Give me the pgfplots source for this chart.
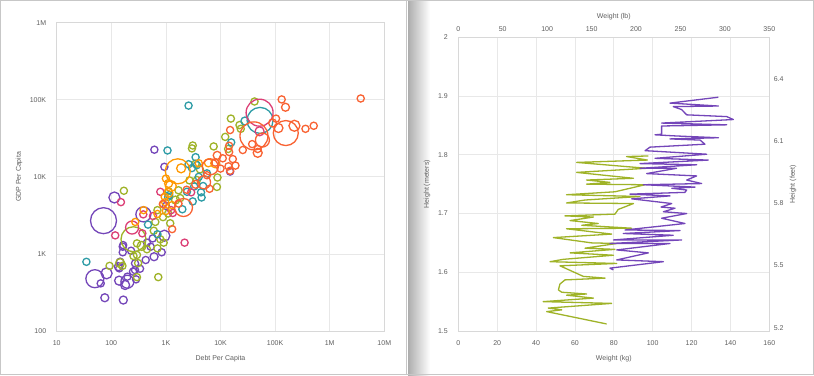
\documentclass[border=0pt]{standalone}
\usepackage{fontspec}
\setmainfont{Liberation Sans}
\usepackage{pgfplots}
\pgfplotsset{compat=1.18}
\definecolor{cP}{HTML}{7446B9}
\definecolor{cG}{HTML}{9FB328}
\definecolor{cR}{HTML}{F96232}
\definecolor{cT}{HTML}{2E9CA6}
\definecolor{cK}{HTML}{DC3F76}
\definecolor{cO}{HTML}{FF9800}
\definecolor{txt}{HTML}{5F5F5F}
\definecolor{gridc}{HTML}{E8E8E8}
\definecolor{axc}{HTML}{D8D8D8}
\pgfplotsset{
  base/.style={
    scale only axis,
    axis line style={draw=axc, line width=0.8pt},
    grid=major, major grid style={draw=gridc, line width=0.8pt},
    minor tick num=0,
    tick style={draw=none},
    tick label style={font=\fontsize{7}{8}\selectfont, text=txt},
    label style={font=\fontsize{7}{8}\selectfont, text=txt},
    /pgf/number format/assume math mode=true,
  },
  bub/.style={only marks, scatter, mark=o, line width=1.3pt,
    mark options={line width=1.3pt},
    scatter/use mapped color={draw=#1, fill=none, line width=1.3pt},
    visualization depends on={\thisrow{r}\as\bsize},
    scatter/@pre marker code/.append style={/tikz/mark size=\bsize}},
}
\begin{document}
\begin{tikzpicture}[x=1pt,y=1pt]
\useasboundingbox (0,0) rectangle (814,375);
\fill[white] (0,0) rectangle (814,375);
\shade[left color=black!32, right color=white] (408,0) rectangle (430,375);
\draw[black!22, line width=0.8pt] (0.5,0.5) rectangle (813.5,374.5);
\draw[black!22, line width=0.8pt] (406.8,0) -- (406.8,375);

% ---------------- left bubble chart ----------------
\begin{axis}[base, at={(56.7pt,44pt)}, anchor=south west,
  width=327.6pt, height=308.3pt,
  xmode=log, ymode=log,
  xmin=10, xmax=1e7, ymin=100, ymax=1e6,
  xtick={10,100,1000,10000,100000,1000000,10000000},
  xticklabels={10,100,1K,10K,100K,1M,10M},
  ytick={100,1000,10000,100000,1000000},
  yticklabels={100,1K,10K,100K,1M},
  xticklabel style={yshift=-6pt},
  yticklabel style={xshift=-7pt},
  xlabel={Debt Per Capita}, ylabel={GDP Per Capita},
  xlabel style={at={([yshift=-28pt]rel axis cs:0.5,0)}, anchor=center},
  ylabel style={at={([xshift=-37.7pt]rel axis cs:0,0.5)}, anchor=center},
  clip=false]
\addplot[bub=cP] table {
x y r
72 2700 13
50 477 9
64 415 3.6
82 560 5.5
76 270 4
166 252 4
114 5400 5.5
615 22500 3.6
938 13500 3.6
387 3260 7.5
938 1725 5.5
573 1590 3.6
527 1240 3.6
607 920 4
837 1050 3.6
427 834 3.6
336 643 3.6
272 618 3.6
197 436 6.5
179 395 4.5
197 507 3.6
139 450 4.5
135 683 4
145 793 3.6
162 1050 3.6
162 1240 3.6
284 468 3.6
272 755 3.6
250 590 3.6
140 650 3.6
165 1300 3.6
230 1100 3.6
450 1400 3.6
1000 4200 3.6
15000 11700 3.6
};
\addplot[bub=cG] table {
x y r
170 6600 3.6
93 700 3.6
145 760 4.5
160 700 3.6
255 1550 12.5
360 1270 4.5
295 1370 3.6
295 970 3.6
255 940 3.6
310 760 3.6
295 500 3.6
725 500 3.6
450 1150 3.6
600 2000 3.6
640 2600 3.6
700 3700 3.6
885 3000 3.6
910 1400 3.6
700 1180 3.6
790 1550 3.6
1200 2500 3.6
1100 3350 3.6
1120 6500 3.6
1500 5000 4
1700 6700 3.6
1830 5300 3.6
2700 9000 3.6
3700 9100 3.6
4200 12500 3.6
3500 14800 3.6
3000 23400 3.6
3100 25500 3.6
7500 24800 3.6
8800 9800 3.6
8600 7400 3.6
12200 33000 3.6
13800 23000 3.6
15500 57000 3.6
22300 47000 3.6
23500 42000 3.6
42000 95000 3.6
};
\addplot[bub=cT] table {
x y r
35 790 3.6
2600 84000 3.6
1070 22000 3.6
28000 53000 4
53000 54000 13
15700 28000 3.6
3500 18000 3.6
3700 14200 3.6
3000 13000 3.6
2600 14600 3.6
4000 10000 3.6
5650 11100 3.6
4800 7600 3.6
4400 6300 3.6
4500 5400 3.6
3100 4800 3.6
2430 6400 3.6
2000 3800 3.6
1100 5500 3.6
1150 5800 3.6
470 2400 3.6
700 1800 3.6
3300 7500 3.6
};
\addplot[bub=cK] table {
x y r
150 4700 3.6
118 1740 3.6
240 2200 6.5
370 1850 3.6
385 3260 3.6
580 3100 3.6
790 6400 3.6
1250 3700 3.6
1340 3400 3.6
2200 1400 3.6
2900 6300 3.6
52000 68000 13.5
52000 39000 4.5
};
\addplot[bub=cO] table {
x y r
1650 11800 12.5
1900 12900 4.5
1000 9500 3.6
1230 7600 5.5
1120 8200 4
1110 6200 4.5
950 5500 3.6
970 4700 3.6
885 4400 3.6
1300 4300 3.6
1000 3600 3.6
700 3300 3.6
390 3700 3.6
275 2600 3.6
4000 15000 3.6
6000 15200 4
8000 15000 4.5
};
\addplot[bub=cR] table {
x y r
3700000 104000 3.6
132000 101000 3.6
155000 80000 4
104000 57000 3.6
115000 43000 4.5
157000 37000 12.5
226000 46000 5.5
360000 42000 3.6
510000 46000 3.6
41000 34000 14
58600 30000 7
90000 50000 4
48000 20500 4.5
48000 23000 3.6
38000 26600 3.6
25600 22300 3.6
15000 40500 3.6
14400 25300 3.6
14400 21000 3.6
16800 17000 3.6
18800 14000 3.6
15000 12000 3.6
11000 17400 3.6
10000 12800 3.6
8700 19000 4
8000 15300 3.6
14000 13700 3.6
6300 7000 3.6
5650 10500 3.6
5000 8500 6.5
3500 8000 4
6500 13500 8
2400 6800 3.6
2100 4000 9
1700 4500 3.6
1300 2100 3.6
885 4450 3.6
};
\end{axis}

% ---------------- right line chart ----------------
\begin{axis}[base, at={(458.3pt,44pt)}, anchor=south west,
  width=311pt, height=293.7pt,
  xmin=0, xmax=160, ymin=1.5, ymax=2,
  xtick={0,20,40,60,80,100,120,140,160},
  ytick={1.5,1.6,1.7,1.8,1.9,2},
  xtick pos=bottom, ytick pos=left,
  xticklabel style={yshift=-6pt},
  yticklabel style={xshift=-7pt},
  xlabel={Weight (kg)}, ylabel={Height (meters)},
  xlabel style={at={([yshift=-28pt]rel axis cs:0.5,0)}, anchor=center},
  ylabel style={at={([xshift=-31.3pt]rel axis cs:0,0.5)}, anchor=center}]
\addplot[cG, line width=1.3pt, line join=round] table {
w h
97.8 1.798
86.6 1.797
97.3 1.791
60.9 1.787
96.9 1.777
60.9 1.770
90.1 1.760
66.0 1.757
78.0 1.753
66.0 1.750
96.1 1.749
80.6 1.737
55.7 1.732
93.5 1.729
65.2 1.723
55.7 1.718
90.1 1.717
82.3 1.707
80.6 1.699
54.9 1.696
69.5 1.694
57.5 1.688
72.0 1.683
63.5 1.680
89.2 1.675
55.7 1.674
78.9 1.665
48.9 1.659
68.6 1.650
81.5 1.649
65.2 1.641
80.6 1.639
57.5 1.633
79.8 1.629
54.0 1.622
47.2 1.618
81.5 1.615
52.3 1.611
64.3 1.593
75.5 1.590
54.9 1.587
52.3 1.580
51.5 1.570
53.2 1.566
66.0 1.563
55.7 1.561
69.5 1.556
43.7 1.550
78.9 1.547
46.3 1.539
53.2 1.536
45.5 1.533
76.3 1.512
};
\addplot[cP, line width=1.3pt, line join=round] table {
w h
133.8 1.898
108.9 1.888
133.8 1.883
110.6 1.882
114.9 1.877
116.6 1.871
117.5 1.868
138.1 1.865
141.5 1.860
104.6 1.854
138.1 1.851
104.6 1.849
104.6 1.835
101.2 1.834
112.3 1.832
133.8 1.829
108.9 1.827
124.4 1.825
126.9 1.818
98.6 1.813
96.1 1.807
127.8 1.801
101.2 1.794
128.6 1.791
93.5 1.785
122.6 1.783
93.5 1.777
112.3 1.777
96.9 1.768
122.6 1.764
117.5 1.757
125.2 1.751
95.2 1.749
121.8 1.745
109.8 1.743
117.5 1.740
116.6 1.736
88.3 1.733
108.9 1.730
89.2 1.725
109.8 1.717
104.3 1.711
111.5 1.709
105.5 1.703
117.5 1.700
104.6 1.692
116.6 1.683
85.8 1.672
114.1 1.671
84.9 1.666
110.6 1.663
79.8 1.655
114.9 1.655
78.0 1.649
108.9 1.649
81.5 1.638
97.8 1.633
81.5 1.621
105.5 1.618
78.0 1.607
79.8 1.604
};
\end{axis}
\begin{axis}[base, at={(458.3pt,44pt)}, anchor=south west,
  width=311pt, height=293.7pt,
  xmin=0, xmax=350, ymin=5.184, ymax=6.6,
  axis x line*=top, axis y line*=right,
  axis line style={draw=none}, grid=none,
  xtick={0,50,100,150,200,250,300,350},
  ytick={5.2,5.5,5.8,6.1,6.4},
  yticklabel style={/pgf/number format/fixed, /pgf/number format/precision=1, xshift=1pt},
  xticklabel style={yshift=2pt},
  xlabel={Weight (lb)}, ylabel={Height (feet)},
  xlabel style={at={([yshift=21pt]rel axis cs:0.5,1)}, anchor=center},
  ylabel style={at={([xshift=23.7pt]rel axis cs:1,0.5)}, anchor=center, rotate=0}]
\end{axis}
\end{tikzpicture}
\end{document}
